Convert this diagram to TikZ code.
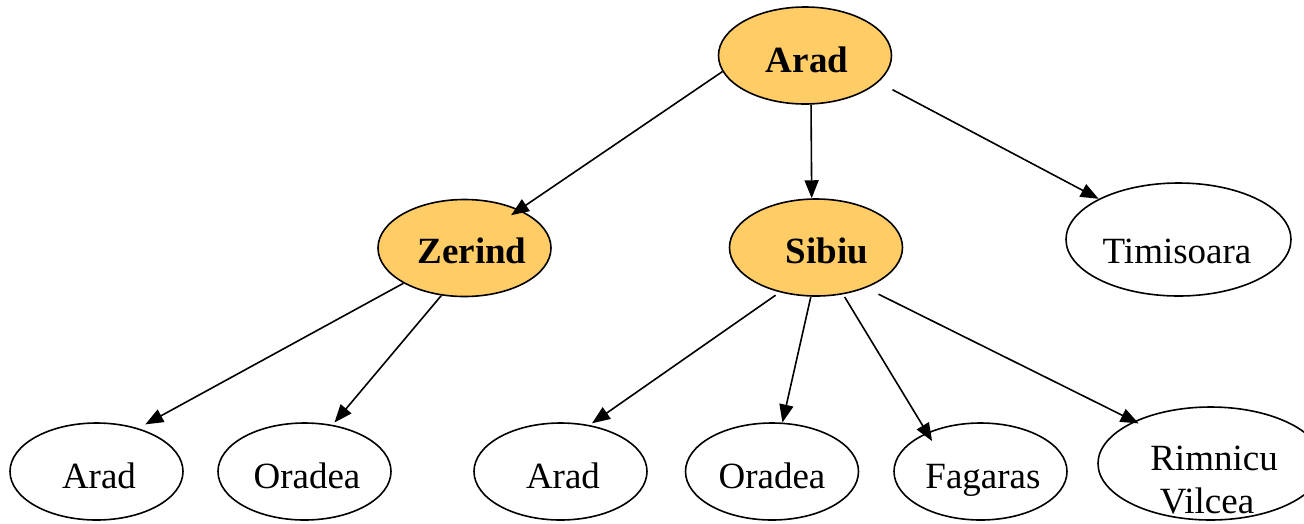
\documentclass[tikz,border=0pt]{standalone}
\usepackage{fontspec}
\setmainfont{Liberation Serif}
\usetikzlibrary{shapes.geometric,arrows.meta}
\definecolor{visited}{RGB}{255,204,102}
\tikzset{
  city/.style={ellipse, draw=black, line width=1.6pt, inner sep=0pt,
    minimum width=173pt, minimum height=97pt},
  widecity/.style={city, minimum width=225pt, minimum height=113pt},
  expanded/.style={fill=visited},
  lbl/.style={anchor=base, inner sep=0pt, font=\fontsize{37}{40}\selectfont},
  blbl/.style={lbl, font=\fontsize{37}{40}\selectfont\bfseries},
  link/.style={line width=1.6pt, -{Triangle[length=18pt,width=14pt]}}
}
\begin{document}
\begin{tikzpicture}[x=1pt,y=1pt]
\useasboundingbox (0,0) rectangle (1304,-523);
\clip (0,0) rectangle (1304,-523);

% search tree nodes
\node[city, expanded] (root) at (805,-55.5) {};
\node[city, expanded] (zer) at (464.5,-248) {};
\node[city, expanded] (sib) at (816,-247.5) {};
\node[widecity] (tim) at (1178.5,-239.5) {};
\node[city] (a1) at (96.5,-471.5) {};
\node[city] (o1) at (304.5,-471.5) {};
\node[city] (a2) at (560.5,-471.5) {};
\node[city] (o2) at (772,-471.5) {};
\node[city] (fag) at (980.5,-471.5) {};
\node[widecity] (rim) at (1210.5,-463.5) {};

% labels
\node[blbl] (troot) at (807,-72) {Arad};
\node[blbl] (tzer) at (472,-263) {Zerind};
\node[blbl] (tsib) at (827,-263) {Sibiu};
\node[lbl] (ttim) at (1177,-263) {Timisoara};
\node[lbl] (ta1) at (99,-488) {Arad};
\node[lbl] (to1) at (307,-488) {Oradea};
\node[lbl] (ta2) at (563,-488) {Arad};
\node[lbl] (to2) at (772,-488) {Oradea};
\node[lbl] (tfag) at (983,-488) {Fagaras};
\node[lbl] (trim1) at (1214,-470) {Rimnicu};
\node[lbl] (trim2) at (1207,-513) {Vilcea};

% expansions
\draw[link, shorten >=-10pt] (root.191) -- (zer.35.7);
\draw[link] (root.-83) -- (sib.95.9);
\draw[link, shorten <=16pt] (root.-20.6) -- (tim.153.9);
\draw[link, shorten >=8pt] (zer.210.7) -- (a1.46.2);
\draw[link, shorten >=3pt] (zer.244.9) -- (o1.59.6);
\draw[link, shorten <=5pt, shorten >=3pt] (sib.231.9) -- (a2.58.7);
\draw[link] (sib.264.1) -- (o2.78.3);
\draw[link, shorten <=3pt, shorten >=-10pt] (sib.300) -- (fag.144.2);
\draw[link, shorten <=14pt, shorten >=-5pt] (sib.321) -- (rim.151.1);
\end{tikzpicture}
\end{document}
